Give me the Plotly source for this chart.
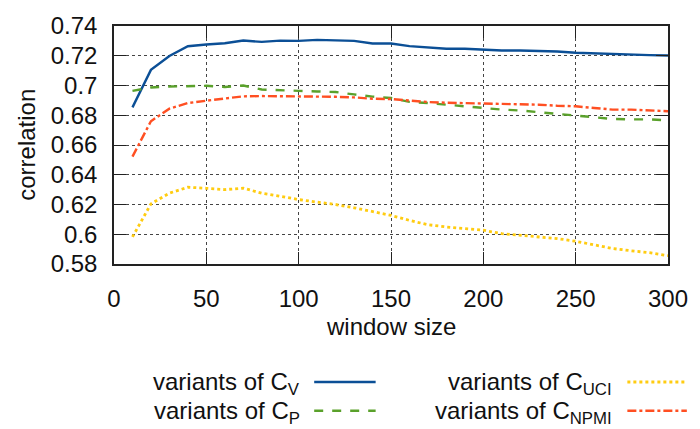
import plotly.graph_objects as go

window = [10, 20, 30, 40, 50, 60, 70, 80, 90, 100, 110, 120, 130, 140, 150,
          160, 170, 180, 190, 200, 210, 220, 230, 240, 250, 260, 270, 280, 290, 300]

c_v = [0.6853, 0.7105, 0.7198, 0.7264, 0.7276, 0.7284, 0.7302, 0.7293, 0.7302, 0.7300,
       0.7307, 0.7304, 0.7300, 0.7282, 0.7282, 0.7265, 0.7255, 0.7247, 0.7247, 0.7240,
       0.7235, 0.7235, 0.7233, 0.7229, 0.7220, 0.7216, 0.7209, 0.7204, 0.7204, 0.7202]

c_p = [0.6964, 0.6987, 0.6993, 0.6998, 0.6998, 0.6990, 0.7000, 0.6973, 0.6971, 0.6964,
       0.6960, 0.6956, 0.6940, 0.6925, 0.6916, 0.6890, 0.6882, 0.6871, 0.6860, 0.6844,
       0.6838, 0.6832, 0.6820, 0.6810, 0.6795, 0.6785, 0.6775, 0.6772, 0.6772, 0.6765]

c_uci = [0.5982, 0.6204, 0.6276, 0.6316, 0.6309, 0.6300, 0.6310, 0.6276, 0.6256, 0.6233,
         0.6216, 0.6200, 0.6178, 0.6150, 0.6127, 0.6093, 0.6064, 0.6049, 0.6038, 0.6027,
         0.6004, 0.5993, 0.5982, 0.5971, 0.5953, 0.5927, 0.5904, 0.5889, 0.5876, 0.5856]

c_npmi = [0.6522, 0.6760, 0.6844, 0.6882, 0.6898, 0.6910, 0.6927, 0.6929, 0.6929, 0.6924,
          0.6927, 0.6924, 0.6920, 0.6911, 0.6909, 0.6898, 0.6889, 0.6884, 0.6882, 0.6878,
          0.6876, 0.6873, 0.6871, 0.6864, 0.6860, 0.6849, 0.6838, 0.6838, 0.6833, 0.6827]

series_names = ["variants of C<sub>V</sub>", "variants of C<sub>P</sub>",
                "variants of C<sub>UCI</sub>", "variants of C<sub>NPMI</sub>"]
colors = ["#0b4f96", "#5aa12b", "#ffcc11", "#ff4f22"]
dashes = ["solid", "dash", "dot", "dashdot"]
widths = [2.4, 2.4, 2.8, 2.4]

x_ticks = [0, 50, 100, 150, 200, 250, 300]
y_ticks = [0.58, 0.60, 0.62, 0.64, 0.66, 0.68, 0.70, 0.72, 0.74]
y_tick_text = ["0.58", "0.6", "0.62", "0.64", "0.66", "0.68", "0.7", "0.72", "0.74"]

FONT = "Liberation Sans, Arial, sans-serif"
FS = 24

fig = go.Figure()
for vals, name, col, d, w in zip([c_v, c_p, c_uci, c_npmi], series_names, colors, dashes, widths):
    fig.add_trace(go.Scatter(x=window, y=vals, mode="lines", name=name,
                             line=dict(color=col, width=w, dash=d),
                             showlegend=False))

L, R, T, B = 114, 27, 24, 165
W, H = 700, 429
pw = W - L - R
ph = H - T - B

def px(xp):
    return (xp - L) / pw

def py(yp):
    return (H - B - yp) / ph

annotations = [
    dict(text="window size", x=0.5, y=py(327), xref="paper", yref="paper",
         showarrow=False, font=dict(size=FS, color="#111", family=FONT),
         xanchor="center", yanchor="middle"),
    dict(text="correlation", x=px(25), y=0.5, xref="paper", yref="paper",
         showarrow=False, textangle=-90, font=dict(size=FS, color="#111", family=FONT),
         xanchor="center", yanchor="middle"),
]

# legend (gnuplot style: text right-aligned, sample to the right)
leg_rows = [383, 412]
leg_text_right = [304, 619]
leg_sample = [(316, 378), (632, 692)]
shapes = []
for i, (name, col, d, w) in enumerate(zip(series_names, colors, dashes, widths)):
    col_i = i // 2
    row_i = i % 2
    yy = leg_rows[row_i]
    annotations.append(dict(text=name, x=px(leg_text_right[col_i]), y=py(yy + 2),
                            xref="paper", yref="paper", showarrow=False,
                            font=dict(size=FS, color="#111", family=FONT),
                            xanchor="right", yanchor="middle"))
    x0, x1 = leg_sample[col_i]
    shapes.append(dict(type="line", xref="paper", yref="paper",
                       x0=px(x0), x1=px(x1), y0=py(yy), y1=py(yy),
                       line=dict(color=col, width=w, dash=d)))

fig.update_layout(
    width=W, height=H,
    margin=dict(l=L, r=R, t=T, b=B),
    paper_bgcolor="white", plot_bgcolor="white",
    font=dict(family=FONT, size=FS, color="#111"),
    annotations=annotations, shapes=shapes,
    xaxis=dict(range=[0, 300], tickvals=x_ticks, ticks="inside", ticklen=12,
               tickcolor="#222", tickwidth=1.2, mirror="allticks", showline=True,
               linecolor="#222", linewidth=1.5, showgrid=True, gridcolor="#444",
               griddash="dot", gridwidth=1, zeroline=False,
               tickfont=dict(size=FS, family=FONT, color="#111"),
               ticklabelstandoff=12),
    yaxis=dict(range=[0.58, 0.74], tickvals=y_ticks, ticktext=y_tick_text,
               ticks="inside", ticklen=12, tickcolor="#222", tickwidth=1.2,
               mirror="allticks", showline=True, linecolor="#222", linewidth=1.5,
               showgrid=True, gridcolor="#444", griddash="dot", gridwidth=1,
               zeroline=False, tickfont=dict(size=FS, family=FONT, color="#111"),
               ticklabelstandoff=10),
)

fig.write_html("out.html")
